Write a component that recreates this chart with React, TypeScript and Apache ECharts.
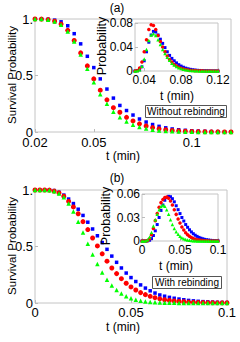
import React, { useEffect, useRef } from "react";
import * as echarts from "echarts";

// ---------- data ----------
// panel (a) main: survival probability, without rebinding
const tA = [0.02, 0.0233, 0.0267, 0.03, 0.0333, 0.0367, 0.04, 0.0433, 0.0467, 0.05, 0.0533, 0.0567, 0.06, 0.0633, 0.0667, 0.07, 0.0733, 0.0767, 0.08, 0.0833, 0.0867, 0.09, 0.0933, 0.0967, 0.1, 0.1033, 0.1067, 0.11, 0.1133, 0.1167, 0.12];
const blueA = [1.0, 1.0, 0.998, 0.99, 0.975, 0.94, 0.87, 0.78, 0.67, 0.57, 0.47, 0.38, 0.3, 0.235, 0.19, 0.15, 0.115, 0.088, 0.066, 0.05, 0.037, 0.027, 0.02, 0.015, 0.011, 0.008, 0.006, 0.004, 0.003, 0.002, 0.0015];
const redA = [1.0, 0.999, 0.995, 0.98, 0.955, 0.9, 0.81, 0.7, 0.585, 0.47, 0.37, 0.285, 0.215, 0.175, 0.13, 0.098, 0.072, 0.053, 0.039, 0.028, 0.02, 0.014, 0.01, 0.007, 0.005, 0.0035, 0.0025, 0.0018, 0.0012, 0.0008, 0.0005];
const greenA = [1.0, 0.999, 0.994, 0.978, 0.95, 0.89, 0.8, 0.685, 0.56, 0.44, 0.335, 0.25, 0.18, 0.13, 0.092, 0.064, 0.044, 0.03, 0.02, 0.014, 0.009, 0.006, 0.004, 0.003, 0.002, 0.001, 0.0007, 0.0005, 0.0003, 0.0002, 0.0001];

// panel (a) inset: probability density
const tIA = [0.03, 0.0325, 0.035, 0.0375, 0.04, 0.0425, 0.045, 0.0475, 0.05, 0.0525, 0.055, 0.0575, 0.06, 0.0625, 0.065, 0.0675, 0.07, 0.0725, 0.075, 0.0775, 0.08, 0.0825, 0.085, 0.0875, 0.09, 0.0925, 0.095, 0.0975, 0.1, 0.1025, 0.105, 0.1075, 0.11, 0.1125, 0.115, 0.1175, 0.12];
const redIA = [0, 0.001, 0.005, 0.015, 0.032, 0.052, 0.069, 0.077, 0.076, 0.069, 0.059, 0.049, 0.04, 0.032, 0.025, 0.019, 0.015, 0.011, 0.0085, 0.0062, 0.0045, 0.0033, 0.0024, 0.0017, 0.0012, 0.0008, 0.0006, 0.0004, 0.0003, 0.0002, 0.0001, 0.0001, 0, 0, 0, 0, 0];
const blueIA = [0, 0.0005, 0.002, 0.007, 0.017, 0.032, 0.048, 0.06, 0.066, 0.065, 0.06, 0.053, 0.046, 0.039, 0.032, 0.026, 0.021, 0.017, 0.0135, 0.0105, 0.0082, 0.0063, 0.0048, 0.0037, 0.0028, 0.0021, 0.0016, 0.0012, 0.0009, 0.0007, 0.0005, 0.0004, 0.0003, 0.0002, 0.0001, 0.0001, 0];
const greenIA = [0, 0.0003, 0.002, 0.008, 0.02, 0.036, 0.051, 0.06, 0.062, 0.059, 0.052, 0.044, 0.036, 0.029, 0.023, 0.018, 0.013, 0.01, 0.0075, 0.0055, 0.004, 0.003, 0.002, 0.0015, 0.001, 0.0007, 0.0005, 0.0003, 0.0002, 0.0001, 0, 0, 0, 0, 0, 0, 0];

// panel (b) main: survival probability, with rebinding
const tB = [0, 0.0025, 0.005, 0.0075, 0.01, 0.0125, 0.015, 0.0175, 0.02, 0.0225, 0.025, 0.0275, 0.03, 0.0325, 0.035, 0.0375, 0.04, 0.0425, 0.045, 0.0475, 0.05, 0.0525, 0.055, 0.0575, 0.06, 0.0625, 0.065, 0.0675, 0.07, 0.0725, 0.075, 0.0775, 0.08, 0.0825, 0.085, 0.0875, 0.09, 0.0925, 0.095, 0.0975, 0.1];
const blueB = [1, 1, 1, 1, 0.995, 0.98, 0.955, 0.92, 0.88, 0.83, 0.775, 0.715, 0.655, 0.595, 0.535, 0.475, 0.415, 0.36, 0.31, 0.265, 0.225, 0.19, 0.16, 0.132, 0.108, 0.088, 0.071, 0.06, 0.05, 0.042, 0.035, 0.029, 0.023, 0.019, 0.015, 0.012, 0.01, 0.008, 0.006, 0.005, 0.004];
const redB = [1, 1, 1, 0.999, 0.99, 0.975, 0.945, 0.9, 0.85, 0.79, 0.72, 0.65, 0.575, 0.505, 0.435, 0.37, 0.31, 0.26, 0.215, 0.175, 0.142, 0.115, 0.092, 0.074, 0.059, 0.047, 0.037, 0.029, 0.023, 0.018, 0.014, 0.011, 0.008, 0.006, 0.005, 0.004, 0.003, 0.002, 0.0015, 0.001, 0.001];
const greenB = [1, 1, 1, 0.998, 0.99, 0.97, 0.935, 0.88, 0.81, 0.72, 0.625, 0.525, 0.43, 0.345, 0.27, 0.205, 0.155, 0.115, 0.083, 0.06, 0.042, 0.029, 0.02, 0.014, 0.009, 0.006, 0.004, 0.003, 0.002, 0.0015, 0.001, 0.0007, 0.0005, 0.0003, 0.0002, 0.0001, 0, 0, 0, 0, 0];

// panel (b) inset: probability density
const tIB = tB;
const redIB = [0, 0, 0, 0.0005, 0.003, 0.008, 0.016, 0.026, 0.035, 0.043, 0.049, 0.053, 0.0555, 0.056, 0.0545, 0.051, 0.046, 0.04, 0.034, 0.028, 0.023, 0.018, 0.014, 0.0105, 0.008, 0.006, 0.0044, 0.0032, 0.0023, 0.0016, 0.0011, 0.0008, 0.0005, 0.0003, 0.0002, 0.0001, 0, 0, 0, 0, 0];
const blueIB = [0, 0, 0, 0.0002, 0.001, 0.003, 0.007, 0.013, 0.021, 0.03, 0.039, 0.046, 0.052, 0.0555, 0.057, 0.0565, 0.054, 0.05, 0.045, 0.04, 0.035, 0.03, 0.0255, 0.021, 0.0175, 0.0143, 0.0116, 0.0093, 0.0074, 0.0059, 0.0046, 0.0036, 0.0028, 0.0021, 0.0016, 0.0012, 0.0009, 0.0007, 0.0005, 0.0004, 0.0003];
const greenIB = [0, 0, 0.0003, 0.0015, 0.005, 0.011, 0.019, 0.027, 0.034, 0.04, 0.044, 0.046, 0.0445, 0.04, 0.034, 0.027, 0.021, 0.016, 0.0118, 0.0085, 0.006, 0.0042, 0.0029, 0.002, 0.0013, 0.0008, 0.0005, 0.0003, 0.0002, 0.0001, 0, 0, 0, 0, 0, 0, 0, 0, 0, 0, 0];

// tick labels
const ticksAx = [0.02, 0.05, 0.1];
const ticksAy = [0, 0.5, 1];
const ticksIAx = [0.04, 0.08, 0.12];
const ticksIAy = [0, 0.04, 0.08];
const ticksBx = [0, 0.05, 0.1];
const ticksBy = [0, 0.5, 1];
const ticksIBx = [0, 0.05, 0.1];
const ticksIBy = [0, 0.03, 0.06];

const RED = "#ff0000";
const BLUE = "#0000ff";
const GREEN = "#00ff00";
const FONT = "Liberation Sans";

const zip = (t: number[], v: number[]) => t.map((x, i) => [x, v[i]]);

const fmt = (v: number) => (v === 1 ? "1." : String(+v.toFixed(4)));

function ax(gridIndex: number, min: number, max: number, ticks: number[], fs: number, margin: number) {
  return {
    type: "value",
    gridIndex,
    min,
    max,
    axisLine: { show: false },
    splitLine: { show: false },
    axisTick: { show: true, inside: true, length: 3, customValues: ticks, lineStyle: { color: "#bbb" } },
    axisLabel: { customValues: ticks, formatter: fmt, fontSize: fs, color: "#000", fontFamily: FONT, margin },
  };
}

function sc(idx: number, data: number[][], symbol: string, size: number, color: string, z: number) {
  return {
    type: "scatter",
    xAxisIndex: idx,
    yAxisIndex: idx,
    data,
    symbol,
    symbolSize: size,
    itemStyle: { color, opacity: 1 },
    z,
    silent: true,
  };
}

function txt(x: number, y: number, text: string, fs: number, rot = 0) {
  return {
    type: "text",
    x,
    y,
    rotation: rot,
    style: { text, fontSize: fs, fontFamily: FONT, fill: "#000", align: "center", verticalAlign: "middle" },
    z: 100,
  };
}

export default function App() {
  const ref = useRef<HTMLDivElement>(null);
  useEffect(() => {
    if (!ref.current) return;
    const chart = echarts.init(ref.current, null, { renderer: "svg" });
    const gridStyle = { show: true, borderColor: "#c4c4c4", borderWidth: 1, backgroundColor: "transparent" };
    chart.setOption({
      animation: false,
      grid: [
        { left: 35, top: 19, width: 196, height: 113, ...gridStyle },
        { left: 135, top: 23, width: 83, height: 48, ...gridStyle },
        { left: 35, top: 190, width: 192, height: 113, ...gridStyle },
        { left: 142, top: 194, width: 76, height: 47, ...gridStyle },
      ],
      xAxis: [
        ax(0, 0.02, 0.12, ticksAx, 13, 4),
        ax(1, 0.03, 0.12, ticksIAx, 12, 3),
        ax(2, 0, 0.1, ticksBx, 13, 3),
        ax(3, 0, 0.1, ticksIBx, 12, 3),
      ],
      yAxis: [
        ax(0, 0, 1, ticksAy, 13, 2),
        ax(1, 0, 0.08, ticksIAy, 12, 2),
        ax(2, 0, 1, ticksBy, 13, 2),
        ax(3, 0, 0.06, ticksIBy, 12, 2),
      ],
      series: [
        sc(0, zip(tA, blueA), "rect", 3.5, BLUE, 2),
        sc(0, zip(tA, redA), "circle", 5, RED, 3),
        sc(0, zip(tA, greenA), "triangle", 4.5, GREEN, 4),
        sc(1, zip(tIA, blueIA), "rect", 3, BLUE, 2),
        sc(1, zip(tIA, redIA), "circle", 3.5, RED, 3),
        sc(1, zip(tIA, greenIA), "triangle", 3.5, GREEN, 4),
        sc(2, zip(tB, blueB), "rect", 3.5, BLUE, 2),
        sc(2, zip(tB, redB), "circle", 5, RED, 3),
        sc(2, zip(tB, greenB), "triangle", 4.5, GREEN, 4),
        sc(3, zip(tIB, blueIB), "rect", 3, BLUE, 2),
        sc(3, zip(tIB, redIB), "circle", 3.5, RED, 3),
        sc(3, zip(tIB, greenIB), "triangle", 3.5, GREEN, 4),
      ],
      graphic: [
        txt(117, 8, "(a)", 12),
        txt(117, 178, "(b)", 12),
        txt(12, 75, "Survival Probability", 11.5, Math.PI / 2),
        txt(12, 246, "Survival Probability", 11.5, Math.PI / 2),
        txt(123, 156, "t (min)", 12),
        txt(123, 327, "t (min)", 12),
        txt(102, 46, "Probability", 12.5, Math.PI / 2),
        txt(106, 216, "Probability", 12.5, Math.PI / 2),
        txt(177, 96, "t (min)", 12),
        txt(176, 266, "t (min)", 12),
        {
          type: "rect",
          shape: { x: 145.5, y: 105.5, width: 81, height: 12 },
          style: { fill: "#fff", stroke: "#555", lineWidth: 1 },
          z: 99,
        },
        txt(186, 111.5, "Without rebinding", 10),
        {
          type: "rect",
          shape: { x: 152.5, y: 276.5, width: 69, height: 12 },
          style: { fill: "#fff", stroke: "#555", lineWidth: 1 },
          z: 99,
        },
        txt(187, 282.5, "With rebinding", 10),
      ],
    });
    return () => chart.dispose();
  }, []);
  return (
    <div
      ref={ref}
      style={{ position: "fixed", left: 0, top: 0, width: 240, height: 342, background: "#fff" }}
    />
  );
}
